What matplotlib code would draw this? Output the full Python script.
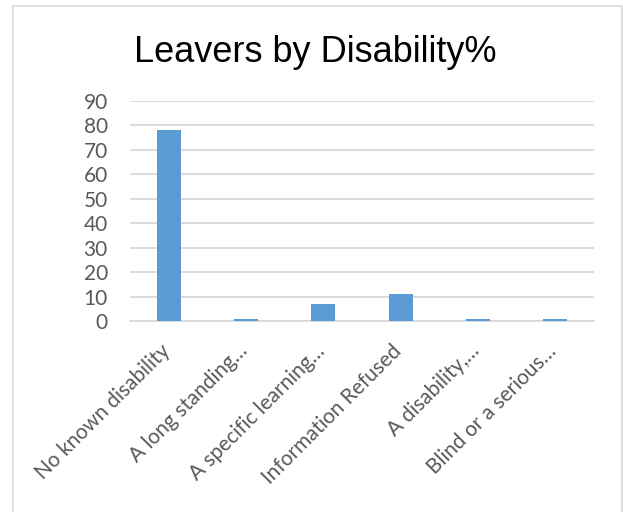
import matplotlib
matplotlib.use("Agg")
import matplotlib.pyplot as plt
from matplotlib.patches import Rectangle
from matplotlib.transforms import ScaledTranslation

categories = ["No known disability", "A long standing…", "A specific learning…",
              "Information Refused", "A disability,…", "Blind or a serious…"]
values = [78, 1, 7, 11, 1, 1]
yticks = [0, 10, 20, 30, 40, 50, 60, 70, 80, 90]
title = "Leavers by Disability%"

fig = plt.figure(figsize=(6.23, 5.12), dpi=100)
fig.patch.set_facecolor("white")
fig.patches.append(Rectangle((13/623, -0.01), (622-13)/623, 1 - 6/512 + 0.01,
                             transform=fig.transFigure, fill=False,
                             edgecolor="#d9d9d9", linewidth=1.2))

ax = fig.add_axes([130/623, 1 - 321/512, (594-130)/623, (321-101)/512])
x = list(range(len(categories)))
ax.bar(x, values, width=0.31, color="#5b9bd5", zorder=3)
ax.set_xlim(-0.5, len(categories) - 0.5)
ax.set_ylim(0, 90)
ax.set_yticks(yticks)
ax.set_yticklabels([str(v) for v in yticks], fontsize=15, color="#595959", family="Lato")
ax.set_xticks(x)
ax.set_xticklabels(categories, rotation=45, ha="right", rotation_mode="anchor",
                   fontsize=15, color="#595959", family="Lato")
ax.tick_params(axis="both", length=0)
ax.tick_params(axis="y", pad=16)
ax.tick_params(axis="x", pad=10)
ax.grid(axis="y", color="#d9d9d9", linewidth=1.3, zorder=0)
for s in ["top", "right", "left"]:
    ax.spines[s].set_visible(False)
ax.spines["bottom"].set_color("#d9d9d9")
ax.spines["bottom"].set_linewidth(1.3)

fig.text(315/623, 1 - 62/512, title, ha="center", va="baseline",
         fontsize=26, family="Liberation Sans", color="black")

fig.canvas.draw()
offset = ScaledTranslation(-9/100, -6/100, fig.dpi_scale_trans)
for tick in ax.xaxis.get_major_ticks():
    tick.label1.set_transform(tick.label1.get_transform() + offset)

fig.savefig("out.png", dpi=100)
